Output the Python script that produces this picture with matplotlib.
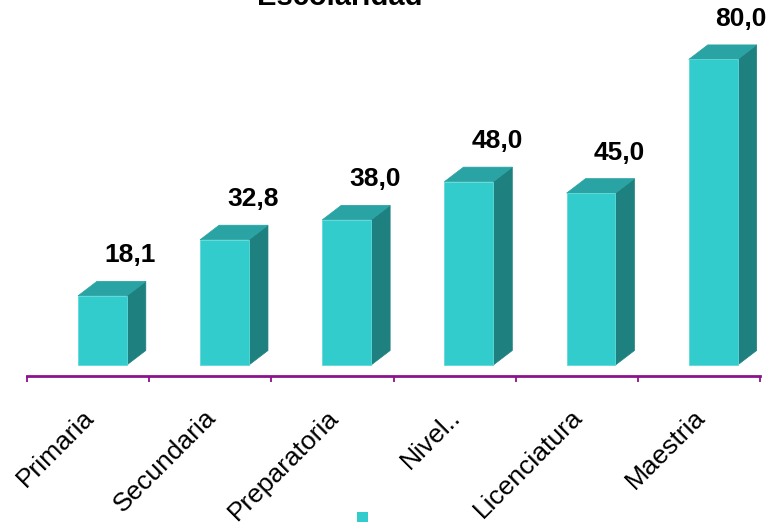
import matplotlib
matplotlib.use("Agg")
import matplotlib.pyplot as plt
from matplotlib.patches import Polygon, Patch
from matplotlib.transforms import ScaledTranslation

niveles = ["Primaria", "Secundaria", "Preparatoria", "Nivel..", "Licenciatura", "Maestria"]
valores = [18.1, 32.8, 38.0, 48.0, 45.0, 80.0]

FRONT = "#33cccc"
TOP = "#29a3a3"
SIDE = "#1f8080"
AXIS = "#8b138b"

plt.rcParams["font.family"] = ["Liberation Sans", "DejaVu Sans"]

W, H = 773, 524
fig = plt.figure(figsize=(W / 100, H / 100), dpi=100)

# axes: bottom line at 376 px from top, category width ~122 px
ax_left, ax_right, ax_bottom = 27, 760, 376
ax = fig.add_axes([ax_left / W, 1 - ax_bottom / H, (ax_right - ax_left) / W, ax_bottom / H])
ppu = 3.82                       # pixels per value unit
y0 = -(ax_bottom - 365) / ppu    # bars stand a little above the axis line
ax.set_xlim(0, len(niveles))
ax.set_ylim(y0, y0 + ax_bottom / ppu)

xpx = (ax_right - ax_left) / len(niveles)
depth_x = 19 / xpx
depth_y = 14.5 / ppu
off, bw = 0.417, 0.40

for i, v in enumerate(valores):
    x0, x1 = i + off, i + off + bw
    front = Polygon([(x0, 0), (x1, 0), (x1, v), (x0, v)], closed=True,
                    facecolor=FRONT, edgecolor="#5fd9d9", lw=0.6, zorder=3)
    top = Polygon([(x0, v), (x1, v), (x1 + depth_x, v + depth_y), (x0 + depth_x, v + depth_y)],
                  closed=True, facecolor=TOP, edgecolor=TOP, lw=0.5, zorder=2)
    side = Polygon([(x1, 0), (x1 + depth_x, depth_y), (x1 + depth_x, v + depth_y), (x1, v)],
                   closed=True, facecolor=SIDE, edgecolor=SIDE, lw=0.5, zorder=2)
    for p in (side, top, front):
        ax.add_patch(p)
    ax.text(x1 + 0.03, v + depth_y + 19 / ppu, f"{v:.1f}".replace(".", ","),
            ha="center", va="baseline", fontsize=19, fontweight="bold", zorder=4)

for s in ("top", "right", "left"):
    ax.spines[s].set_visible(False)
ax.spines["bottom"].set_color(AXIS)
ax.spines["bottom"].set_linewidth(2)
ax.set_yticks([])

ax.set_xticks([i + 0.5 for i in range(len(niveles))])
ax.set_xticklabels(niveles, rotation=45, ha="right", va="top",
                   rotation_mode="anchor", fontsize=19)
ax.set_xticks(range(len(niveles) + 1), minor=True)
ax.tick_params(axis="x", which="major", length=0, pad=21)
ax.tick_params(axis="x", which="minor", length=4.5, width=1.3, color=AXIS, direction="out")
shift = ScaledTranslation(-6 / 100, 0, fig.dpi_scale_trans)
for lbl in ax.get_xticklabels():
    lbl.set_transform(lbl.get_transform() + shift)

fig.text(340 / W, 1 - 5 / H, "Escolaridad", ha="center", va="baseline",
         fontsize=21, fontweight="bold")

fig.legend(handles=[Patch(facecolor=FRONT)], labels=[""], loc="lower center",
           bbox_to_anchor=(362.5 / W, 0.0), frameon=False, fontsize=8,
           handlelength=1, handleheight=1, handletextpad=0, borderpad=0.1,
           borderaxespad=0)

fig.savefig("out.png", dpi=100)
